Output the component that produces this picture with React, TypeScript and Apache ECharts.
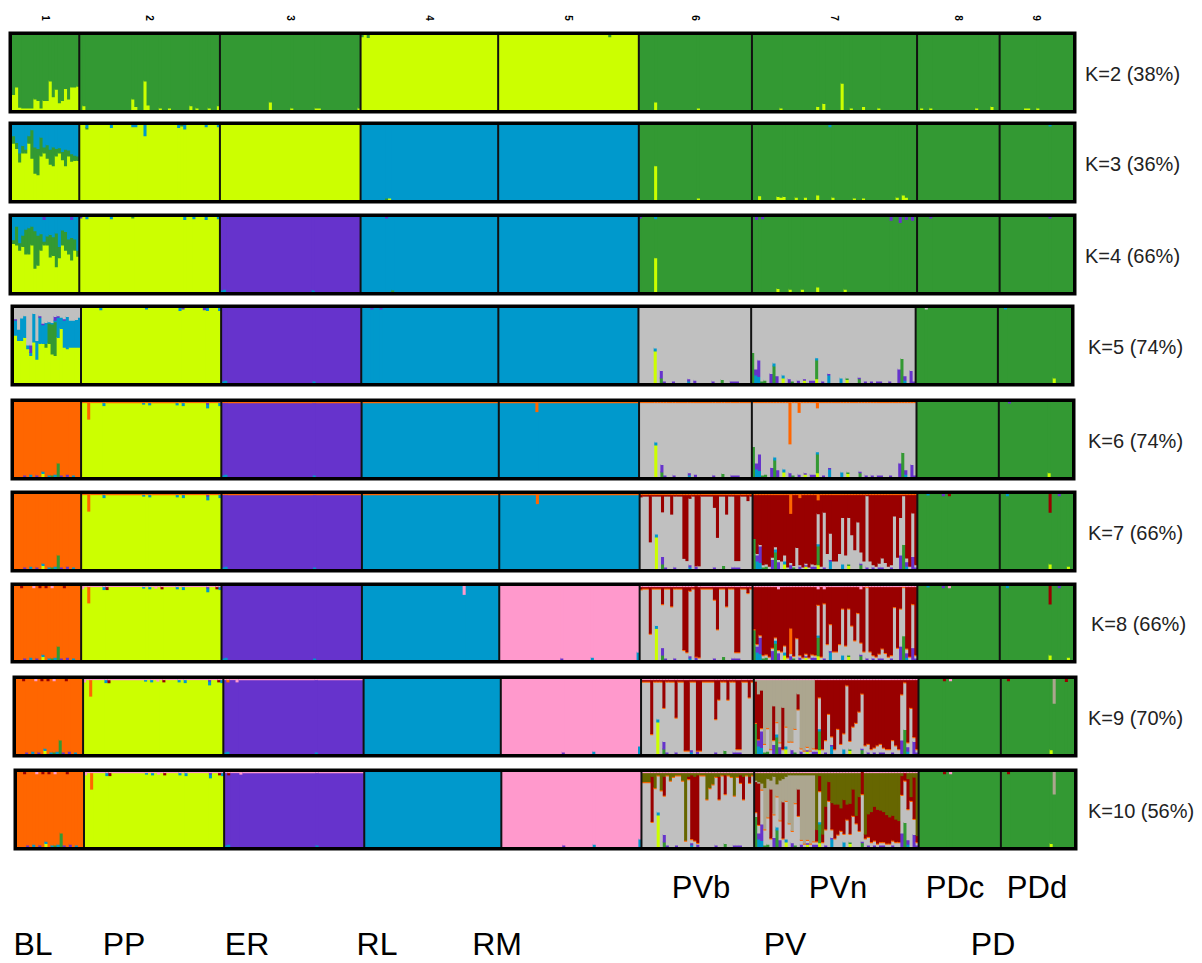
import React, { useEffect, useRef } from 'react';
import * as echarts from 'echarts';

// ---------- categories & labels ----------
const POPS = ['BL', 'PP', 'ER', 'RL', 'RM', 'PVb', 'PVn', 'PDc', 'PDd'];
const POP_SIZES = [22, 46, 46, 45, 46, 37, 54, 27, 24];
const POP_NUMBERS = ['1', '2', '3', '4', '5', '6', '7', '8', '9'];
const K_VALUES = [2, 3, 4, 5, 6, 7, 8, 9, 10];
const K_LABELS = ['K=2 (38%)', 'K=3 (36%)', 'K=4 (66%)', 'K=5 (74%)', 'K=6 (74%)', 'K=7 (66%)', 'K=8 (66%)', 'K=9 (70%)', 'K=10 (56%)'];
const SUB_LABELS = ['PVb', 'PVn', 'PDc', 'PDd'];
const GROUP_LABELS = ['BL', 'PP', 'ER', 'RL', 'RM', 'PV', 'PD'];

// ---------- cluster colours ----------
const CLUSTER_COLORS: Record<string, string> = {
  yellow: '#ccff00', green: '#339933', blue: '#0099cc', purple: '#6633cc',
  gray: '#c0c0c0', orange: '#ff6600', red: '#990000', pink: '#ff99cc',
  khaki: '#aca68f', olive: '#666600',
};

// stacking order (bottom -> top) for each K
const ORDERS: Record<number, string[]> = {
  2: ['yellow', 'green'],
  3: ['yellow', 'green', 'blue'],
  4: ['yellow', 'green', 'blue', 'purple'],
  5: ['yellow', 'green', 'blue', 'purple', 'gray'],
  6: ['yellow', 'green', 'blue', 'purple', 'gray', 'orange'],
  7: ['yellow', 'green', 'blue', 'purple', 'gray', 'red', 'orange'],
  8: ['yellow', 'green', 'blue', 'purple', 'gray', 'orange', 'red', 'pink'],
  9: ['yellow', 'green', 'blue', 'purple', 'gray', 'orange', 'red', 'khaki', 'pink'],
  10: ['yellow', 'green', 'blue', 'purple', 'gray', 'orange', 'red', 'khaki', 'olive', 'pink'],
};

// dominant cluster of each population for each K
const MAIN: Record<number, string[]> = {
  2: ['green', 'green', 'green', 'yellow', 'yellow', 'green', 'green', 'green', 'green'],
  3: ['blue', 'yellow', 'yellow', 'blue', 'blue', 'green', 'green', 'green', 'green'],
  4: ['blue', 'yellow', 'purple', 'blue', 'blue', 'green', 'green', 'green', 'green'],
  5: ['gray', 'yellow', 'purple', 'blue', 'blue', 'gray', 'gray', 'green', 'green'],
  6: ['orange', 'yellow', 'purple', 'blue', 'blue', 'gray', 'gray', 'green', 'green'],
  7: ['orange', 'yellow', 'purple', 'blue', 'blue', 'gray', 'red', 'green', 'green'],
  8: ['orange', 'yellow', 'purple', 'blue', 'pink', 'gray', 'red', 'green', 'green'],
  9: ['orange', 'yellow', 'purple', 'blue', 'pink', 'gray', 'khaki', 'green', 'green'],
  10: ['orange', 'yellow', 'purple', 'blue', 'pink', 'gray', 'khaki', 'green', 'green'],
};
// [K, pop, from individual, dominant cluster from there on]
const SPLITS: [number, number, number, string][] = [
  [9, 6, 20, 'red'],
  [10, 6, 20, 'olive'],
];

// ---------- per-individual membership (percent) ----------
const K2_BL_YELLOW = [20, 30, 3, 2, 2, 2, 2, 14, 12, 2, 12, 12, 38, 17, 27, 9, 12, 28, 14, 30, 30, 31];
const K3_BL_YELLOW = [75, 68, 50, 62, 62, 75, 55, 35, 33, 58, 62, 55, 47, 45, 58, 62, 53, 45, 58, 51, 52, 52];
const K3_BL_GREEN = [10, 8, 12, 10, 5, 10, 38, 35, 35, 25, 8, 18, 20, 25, 10, 7, 11, 22, 8, 10, 7, 6];
const K4_BL_YELLOW = [64, 62, 55, 60, 50, 50, 62, 31, 35, 55, 62, 62, 46, 48, 33, 45, 62, 55, 50, 42, 55, 47];
const K4_BL_GREEN = [5, 25, 10, 15, 33, 35, 25, 50, 40, 22, 5, 12, 30, 25, 45, 15, 20, 25, 20, 30, 15, 8];
const K4_BL_PURPLE = [0, 0, 0, 0, 0, 0, 0, 0, 0, 0, 4, 0, 0, 0, 0, 0, 0, 0, 0, 4, 0, 0];
const K5_BL_YELLOW = [63, 56, 56, 60, 45, 36, 54, 31, 52, 52, 47, 52, 38, 36, 60, 72, 47, 45, 47, 47, 47, 47];
const K5_BL_GREEN = [0, 0, 0, 0, 0, 0, 0, 0, 0, 0, 5, 27, 40, 45, 0, 0, 0, 0, 0, 0, 0, 0];
const K5_BL_BLUE = [20, 15, 30, 29, 5, 4, 38, 25, 35, 25, 28, 2, 2, 2, 27, 15, 36, 43, 36, 36, 37, 40];
const K5_BL_PURPLE = [2, 0, 0, 0, 0, 10, 0, 0, 2, 2, 0, 0, 0, 5, 2, 0, 2, 0, 0, 0, 0, 0];

const K7_PVB_RED = [3, 2, 2, 63, 2, 2, 2, 23, 2, 2, 26, 2, 2, 2, 85, 88, 5, 2, 95, 95, 2, 2, 2, 2, 17, 57, 2, 2, 26, 2, 2, 88, 88, 2, 2, 8, 2];
const K7_PVN_GRAY = [0, 2, 2, 3, 3, 3, 3, 3, 3, 10, 8, 2, 3, 2, 28, 2, 2, 2, 2, 3, 2, 40, 3, 73, 20, 35, 10, 10, 20, 62, 18, 62, 45, 25, 62, 15, 10, 95, 10, 3, 3, 5, 12, 8, 3, 3, 70, 15, 50, 65, 5, 3, 58, 3];
const K9_PVB_RED = [2, 2, 2, 72, 2, 2, 2, 37, 2, 2, 2, 50, 2, 2, 94, 94, 2, 2, 94, 94, 2, 2, 2, 2, 52, 26, 2, 2, 26, 2, 2, 92, 92, 2, 2, 23, 2];
const K9_PVN_GRAY = [0, 0, 3, 10, 30, 5, 5, 15, 5, 5, 25, 15, 10, 30, 58, 3, 3, 3, 3, 3, 2, 41, 5, 15, 52, 10, 5, 32, 12, 20, 90, 10, 35, 40, 55, 72, 10, 10, 5, 5, 10, 10, 5, 5, 5, 15, 10, 5, 60, 62, 5, 60, 5, 3];
const K9_PVN_RED = [55, 60, 50, 0, 0, 0, 45, 0, 0, 55, 0, 0, 0, 0, 20, 0, 0, 0, 0, 0];
const K10_PVB_RED = [0, 0, 0, 60, 0, 0, 0, 25, 0, 0, 0, 0, 0, 0, 0, 3, 85, 85, 90, 0, 0, 0, 0, 0, 0, 30, 0, 25, 0, 0, 0, 0, 10, 30, 0, 8, 0];
const K10_PVB_OLIVE = [12, 12, 12, 5, 20, 3, 23, 5, 3, 10, 5, 3, 3, 10, 90, 5, 3, 5, 3, 3, 3, 35, 20, 15, 5, 5, 3, 3, 3, 5, 30, 5, 3, 5, 3, 5, 3];
const K10_PVN_GRAY = [5, 10, 45, 20, 35, 10, 30, 40, 25, 10, 50, 30, 15, 55, 40, 5, 3, 3, 3, 3,
  3, 40, 5, 20, 60, 10, 10, 15, 20, 10, 35, 10, 40, 30, 20, 62, 10, 10, 5, 5, 3, 3, 3, 3, 3, 5, 5, 5, 50, 55, 40, 60, 20, 3];
const K10_PVN_RED = [40, 55, 0, 0, 0, 65, 0, 0, 0, 48, 0, 0, 0, 0, 35, 0, 0, 0, 0, 0,
  15, 20, 10, 30, 25, 35, 45, 40, 30, 45, 20, 40, 35, 10, 45, 30, 5, 30, 40, 45, 45, 42, 40, 38, 35, 33, 30, 28, 25, 10, 40, 5, 55, 8];
const K10_PVN_OLIVE = [10, 12, 14, 20, 8, 10, 5, 15, 10, 8, 5, 3, 3, 3, 3, 3, 3, 3, 3, 3];

// [K, pop, cluster, per-individual values]
const DENSE: [number, number, string, number[]][] = [
  [2, 0, 'yellow', K2_BL_YELLOW],
  [3, 0, 'yellow', K3_BL_YELLOW], [3, 0, 'green', K3_BL_GREEN],
  [4, 0, 'yellow', K4_BL_YELLOW], [4, 0, 'green', K4_BL_GREEN], [4, 0, 'purple', K4_BL_PURPLE],
  [5, 0, 'yellow', K5_BL_YELLOW], [5, 0, 'green', K5_BL_GREEN], [5, 0, 'blue', K5_BL_BLUE], [5, 0, 'purple', K5_BL_PURPLE],
  [7, 5, 'red', K7_PVB_RED], [7, 6, 'gray', K7_PVN_GRAY],
  [8, 5, 'red', K7_PVB_RED], [8, 6, 'gray', K7_PVN_GRAY],
  [9, 5, 'red', K9_PVB_RED], [9, 6, 'gray', K9_PVN_GRAY], [9, 6, 'red', K9_PVN_RED],
  [10, 5, 'red', K10_PVB_RED], [10, 5, 'olive', K10_PVB_OLIVE],
  [10, 6, 'gray', K10_PVN_GRAY], [10, 6, 'red', K10_PVN_RED], [10, 6, 'olive', K10_PVN_OLIVE],
];

// thin bands shared by every individual of a population: [K, pops, cluster, value]
const BANDS: [number, number[], string, number][] = [
  [6, [1, 2, 3, 4, 5, 6], 'orange', 1.5],
  [7, [1, 2, 3, 4, 5, 6], 'orange', 1.5],
  [8, [5, 6], 'orange', 1.5], [8, [1, 5, 6], 'pink', 1.5],
  [9, [5, 6], 'orange', 1.5], [9, [1, 2, 5, 6], 'pink', 1.5],
  [10, [5, 6], 'orange', 1.5], [10, [1, 2, 5, 6], 'pink', 1.5],
];

// small admixed fractions: [individual, cluster, value]
const PVB_LOW: [number, string, number][] = [
  [5, 'yellow', 42], [5, 'blue', 4], [7, 'purple', 10], [7, 'green', 6], [8, 'purple', 2], [11, 'purple', 2],
  [16, 'purple', 3], [16, 'blue', 2], [18, 'purple', 3], [24, 'purple', 2], [27, 'green', 4],
  [30, 'purple', 2], [31, 'purple', 2], [32, 'purple', 2],
];
const PVN_LOW: [number, string, number][] = [
  [0, 'green', 40], [1, 'blue', 10], [1, 'purple', 8], [2, 'purple', 22], [2, 'blue', 8], [3, 'green', 2], [4, 'green', 3],
  [6, 'purple', 12], [7, 'green', 22], [7, 'blue', 4], [8, 'purple', 9], [10, 'yellow', 6], [10, 'blue', 4],
  [12, 'purple', 5], [13, 'green', 2], [15, 'purple', 3], [17, 'yellow', 3], [17, 'purple', 2], [19, 'purple', 3],
  [20, 'purple', 3], [21, 'green', 25], [21, 'yellow', 5], [21, 'blue', 3], [23, 'purple', 2], [25, 'blue', 10],
  [25, 'purple', 2], [29, 'blue', 6], [31, 'yellow', 4], [31, 'green', 2], [35, 'green', 5], [35, 'purple', 2],
  [37, 'purple', 2], [39, 'purple', 2], [41, 'purple', 2], [42, 'purple', 2], [45, 'purple', 2], [48, 'purple', 18],
  [49, 'green', 32], [50, 'purple', 6], [50, 'blue', 3], [52, 'purple', 16], [53, 'purple', 2],
];
const BL_LOW: [number, string, number][] = [
  [3, 'purple', 2], [5, 'blue', 3], [7, 'purple', 2], [9, 'yellow', 4], [9, 'blue', 3], [11, 'blue', 2],
  [12, 'green', 2], [13, 'blue', 3], [14, 'green', 18], [15, 'purple', 2], [17, 'purple', 3], [19, 'blue', 2],
];
const BL_TOP: [number, string, number][] = [
  [2, 'red', 3], [6, 'pink', 3], [8, 'red', 3], [10, 'red', 3], [12, 'pink', 3], [16, 'red', 3],
];
const PP_TOP: [number, string, number][] = [
  [2, 'orange', 22], [7, 'blue', 4], [20, 'blue', 2], [22, 'blue', 3], [31, 'blue', 3], [33, 'blue', 4],
  [41, 'blue', 5], [41, 'purple', 2], [45, 'blue', 4],
];
const PP_TOP_LATE: [number, string, number][] = [
  [0, 'pink', 3], [8, 'red', 4], [24, 'pink', 2], [26, 'red', 3], [44, 'red', 3],
];
const ER_LOW: [number, string, number][] = [[0, 'blue', 2], [1, 'blue', 3], [30, 'blue', 2]];
const RM_ORANGE: [number, string, number][] = [[12, 'orange', 12]];
const RM_LOW: [number, string, number][] = [[45, 'blue', 10], [30, 'blue', 3], [20, 'purple', 2]];

// which list applies to which population at which K
const SHARED: { ks: number[]; pop: number; items: [number, string, number][] }[] = [
  { ks: [5, 6, 7, 8, 9, 10], pop: 5, items: PVB_LOW },
  { ks: [5, 6, 7, 8, 9, 10], pop: 6, items: PVN_LOW },
  { ks: [6, 7, 8, 9, 10], pop: 0, items: BL_LOW },
  { ks: [8, 9, 10], pop: 0, items: BL_TOP },
  { ks: [6, 7, 8, 9, 10], pop: 1, items: PP_TOP },
  { ks: [8, 9, 10], pop: 1, items: PP_TOP_LATE },
  { ks: [4, 5, 6, 7, 8, 9, 10], pop: 2, items: ER_LOW },
  { ks: [6, 7], pop: 4, items: RM_ORANGE },
  { ks: [8, 9, 10], pop: 4, items: RM_LOW },
];

// [K, pop, individual, cluster, value]
const SPECKS: [number, number, number, string, number][] = [
  // K=2
  [2, 1, 1, 'yellow', 5], [2, 1, 17, 'yellow', 14], [2, 1, 18, 'yellow', 4], [2, 1, 21, 'yellow', 38], [2, 1, 22, 'yellow', 6],
  [2, 1, 26, 'yellow', 2], [2, 1, 29, 'yellow', 2], [2, 1, 36, 'yellow', 5], [2, 1, 38, 'yellow', 2], [2, 1, 42, 'yellow', 2], [2, 1, 45, 'yellow', 5],
  [2, 2, 16, 'yellow', 10], [2, 2, 23, 'yellow', 2], [2, 2, 31, 'yellow', 2], [2, 2, 32, 'yellow', 2], [2, 2, 45, 'yellow', 2],
  [2, 3, 0, 'green', 3], [2, 3, 2, 'green', 4], [2, 4, 36, 'green', 3],
  [2, 5, 5, 'yellow', 10], [2, 5, 19, 'yellow', 2],
  [2, 6, 9, 'yellow', 2], [2, 6, 21, 'yellow', 4], [2, 6, 23, 'yellow', 8], [2, 6, 29, 'yellow', 35], [2, 6, 32, 'yellow', 2], [2, 6, 36, 'yellow', 4], [2, 6, 41, 'yellow', 2],
  [2, 7, 1, 'yellow', 2], [2, 7, 4, 'yellow', 2], [2, 7, 19, 'yellow', 2], [2, 7, 24, 'yellow', 4],
  [2, 8, 8, 'yellow', 2], [2, 8, 9, 'yellow', 2], [2, 8, 12, 'yellow', 2],
  // K=3
  [3, 1, 2, 'blue', 4], [3, 1, 10, 'blue', 4], [3, 1, 17, 'blue', 3], [3, 1, 18, 'blue', 3], [3, 1, 21, 'blue', 15],
  [3, 1, 32, 'blue', 4], [3, 1, 34, 'blue', 6], [3, 1, 41, 'blue', 3], [3, 1, 45, 'blue', 3], [3, 1, 2, 'green', 2], [3, 1, 33, 'green', 2],
  [3, 3, 8, 'green', 2], [3, 3, 9, 'yellow', 2],
  [3, 5, 5, 'yellow', 45], [3, 5, 19, 'yellow', 2],
  [3, 6, 2, 'yellow', 5], [3, 6, 8, 'yellow', 4], [3, 6, 9, 'yellow', 3], [3, 6, 10, 'yellow', 4], [3, 6, 14, 'yellow', 3], [3, 6, 17, 'yellow', 3],
  [3, 6, 21, 'yellow', 6], [3, 6, 25, 'blue', 3], [3, 6, 26, 'yellow', 3], [3, 6, 33, 'yellow', 2], [3, 6, 36, 'yellow', 2],
  [3, 6, 47, 'yellow', 3], [3, 6, 49, 'yellow', 6], [3, 6, 50, 'yellow', 3], [3, 8, 16, 'blue', 2],
  // K=4
  [4, 1, 2, 'blue', 3], [4, 1, 10, 'blue', 3], [4, 1, 17, 'green', 2], [4, 1, 34, 'blue', 4], [4, 1, 37, 'blue', 3],
  [4, 1, 41, 'blue', 4], [4, 1, 45, 'blue', 3], [4, 1, 0, 'purple', 2],
  [4, 3, 10, 'green', 2], [4, 3, 8, 'purple', 2],
  [4, 5, 5, 'yellow', 45], [4, 5, 5, 'blue', 3], [4, 5, 0, 'purple', 2],
  [4, 6, 1, 'purple', 4], [4, 6, 3, 'purple', 3], [4, 6, 8, 'yellow', 4], [4, 6, 12, 'yellow', 3], [4, 6, 16, 'yellow', 3],
  [4, 6, 21, 'yellow', 6], [4, 6, 30, 'yellow', 3], [4, 6, 45, 'purple', 5], [4, 6, 48, 'purple', 8], [4, 6, 50, 'purple', 4], [4, 6, 52, 'purple', 5],
  [4, 7, 4, 'purple', 2], [4, 8, 16, 'purple', 2],
  // K=5
  [5, 1, 6, 'blue', 3], [5, 1, 21, 'blue', 2], [5, 1, 32, 'blue', 4], [5, 1, 33, 'purple', 2], [5, 1, 40, 'purple', 3], [5, 1, 41, 'blue', 4], [5, 1, 45, 'blue', 4],
  [5, 3, 3, 'purple', 2], [5, 3, 6, 'purple', 2],
  [5, 7, 3, 'gray', 2], [5, 8, 18, 'yellow', 6], [5, 8, 2, 'blue', 2],
  // K=6
  [6, 6, 12, 'orange', 55], [6, 6, 15, 'orange', 13], [6, 6, 21, 'orange', 7],
  [6, 8, 3, 'purple', 2], [6, 8, 16, 'yellow', 5],
  // K=7
  [7, 6, 12, 'orange', 25], [7, 6, 15, 'orange', 4], [7, 6, 21, 'orange', 7],
  [7, 7, 8, 'purple', 3], [7, 7, 10, 'red', 3], [7, 7, 3, 'blue', 2],
  [7, 8, 16, 'red', 25], [7, 8, 16, 'yellow', 6], [7, 8, 22, 'yellow', 3], [7, 8, 19, 'purple', 3], [7, 8, 2, 'blue', 3],
  // K=8
  [8, 6, 12, 'orange', 33], [8, 6, 8, 'pink', 3], [8, 6, 21, 'pink', 3], [8, 6, 23, 'pink', 3], [8, 6, 35, 'pink', 3],
  [8, 3, 33, 'pink', 12],
  [8, 7, 8, 'purple', 3], [8, 7, 10, 'pink', 3], [8, 7, 3, 'blue', 2],
  [8, 8, 16, 'red', 25], [8, 8, 16, 'yellow', 6], [8, 8, 22, 'yellow', 3], [8, 8, 19, 'purple', 3], [8, 8, 2, 'blue', 3],
  // K=9
  [9, 2, 1, 'orange', 3], [9, 2, 4, 'pink', 3],
  [9, 7, 8, 'red', 3], [9, 7, 10, 'pink', 3],
  [9, 8, 17, 'khaki', 33], [9, 8, 16, 'yellow', 5], [9, 8, 2, 'red', 3], [9, 8, 21, 'red', 4],
  // K=10
  [10, 2, 1, 'red', 3], [10, 2, 5, 'pink', 2],
  [10, 7, 8, 'red', 3], [10, 7, 10, 'pink', 3],
  [10, 8, 17, 'khaki', 30], [10, 8, 16, 'yellow', 4], [10, 8, 2, 'red', 3],
];

// ---------- layout (pixels) ----------
const PANEL_BOX = [ // [left, right, top, bottom] of each plot area
  [12, 1073, 35, 110], [12, 1073, 125, 200], [12, 1073, 217, 292],
  [14, 1071, 308, 383], [14, 1072, 402, 477], [14, 1073, 494, 569],
  [14, 1073, 586, 660], [16, 1074, 679, 754], [17, 1074, 772, 847],
];
const K_LABEL_X = [1085, 1085, 1085, 1088, 1088, 1088, 1091, 1088, 1088];
const SUB_LABEL_X = [701, 838, 955, 1037];
const SUB_LABEL_Y = 887;
const GROUP_LABEL_X = [33, 124, 247, 377, 497, 785, 993];
const GROUP_LABEL_Y = 944;
const FONT = '"Liberation Sans", Arial, sans-serif';

const PALETTE_KEYS = Object.keys(CLUSTER_COLORS);
const TOTAL = POP_SIZES.reduce((a, b) => a + b, 0);
const STARTS = POP_SIZES.map((_, i) => POP_SIZES.slice(0, i).reduce((a, b) => a + b, 0));
const BOUNDS = STARTS.slice(1);

function buildCells(k: number) {
  const cols: Record<string, number>[][] = POP_SIZES.map((n) => Array.from({ length: n }, () => ({})));
  const add = (p: number, i: number, c: string, v: number) => {
    if (i < POP_SIZES[p] && v > 0) cols[p][i][c] = (cols[p][i][c] || 0) + v;
  };
  BANDS.filter((b) => b[0] === k).forEach(([, pops, c, v]) => pops.forEach((p) => {
    for (let i = 0; i < POP_SIZES[p]; i++) add(p, i, c, v);
  }));
  DENSE.filter((d) => d[0] === k).forEach(([, p, c, arr]) => arr.forEach((v, i) => add(p, i, c, v)));
  SHARED.filter((s) => s.ks.includes(k)).forEach((s) => s.items.forEach(([i, c, v]) => add(s.pop, i, c, v)));
  SPECKS.filter((s) => s[0] === k).forEach(([, p, i, c, v]) => add(p, i, c, v));

  const order = ORDERS[k];
  const items: number[][] = [];
  POP_SIZES.forEach((n, p) => {
    let prevSig = '';
    let prevItems: number[][] = [];
    for (let i = 0; i < n; i++) {
      const x = STARTS[p] + i;
      let dom = MAIN[k][p];
      SPLITS.forEach(([sk, sp, si, sc]) => { if (sk === k && sp === p && i >= si) dom = sc; });
      const col = cols[p][i];
      let explicit = 0;
      Object.keys(col).forEach((c) => { if (c !== dom) explicit += col[c]; });
      const segs: [number, number, number][] = [];
      let y = 0;
      order.forEach((c) => {
        const v = c === dom ? Math.max(0, 100 - explicit) : (col[c] || 0);
        if (v > 0) { segs.push([y, Math.min(100, y + v), PALETTE_KEYS.indexOf(c)]); y += v; }
      });
      const sig = segs.map((s) => s.join(',')).join('|');
      if (sig === prevSig) {
        prevItems.forEach((it) => { it[1] = x + 1; });
      } else {
        prevItems = segs.filter((s) => s[1] > s[0]).map((s) => [x, x + 1, s[0], s[1], s[2]]);
        prevItems.forEach((it) => items.push(it));
        prevSig = sig;
      }
    }
  });
  return items;
}

const renderCell = (_params: any, api: any) => {
  const x0 = api.value(0), x1 = api.value(1), y0 = api.value(2), y1 = api.value(3);
  const tl = api.coord([x0, y1]);
  const br = api.coord([x1, y0]);
  return {
    type: 'rect',
    shape: { x: tl[0], y: tl[1] - 1, width: br[0] - tl[0] + 1, height: br[1] - tl[1] + 1 },
    style: { fill: CLUSTER_COLORS[PALETTE_KEYS[api.value(4)]] },
  };
};

const renderSeparator = (_params: any, api: any) => {
  const b = api.value(0);
  const p0 = api.coord([b, 0]);
  const p1 = api.coord([b, 100]);
  return { type: 'line', shape: { x1: p0[0], y1: p0[1], x2: p1[0], y2: p1[1] }, style: { stroke: '#111', lineWidth: 2 } };
};

const renderPopNumber = (_params: any, api: any) => {
  const p = api.coord([api.value(0), 100]);
  return {
    type: 'text', x: p[0], y: p[1] - 17, rotation: -Math.PI / 2,
    style: { text: POP_NUMBERS[api.value(2)], fill: '#000', font: `bold 10px ${FONT}`, align: 'center', verticalAlign: 'middle' },
  };
};

function buildOption() {
  const grid: any[] = [];
  const xAxis: any[] = [];
  const yAxis: any[] = [];
  const series: any[] = [];
  const graphic: any[] = [];
  K_VALUES.forEach((k, g) => {
    const [l, r, t, b] = PANEL_BOX[g];
    grid.push({ left: l, top: t, width: r - l, height: b - t, show: true, borderColor: '#000', borderWidth: 7, backgroundColor: 'rgba(0,0,0,0)' });
    xAxis.push({ type: 'value', gridIndex: g, min: 0, max: TOTAL, show: false });
    yAxis.push({ type: 'value', gridIndex: g, min: 0, max: 100, show: false });
    series.push({ type: 'custom', xAxisIndex: g, yAxisIndex: g, clip: true, silent: true, renderItem: renderCell, data: buildCells(k), encode: { x: [0, 1], y: [2, 3] } });
    series.push({ type: 'custom', xAxisIndex: g, yAxisIndex: g, silent: true, renderItem: renderSeparator, data: BOUNDS.map((v) => [v, 0]) });
    graphic.push({
      type: 'text', x: K_LABEL_X[g], y: (t + b) / 2 + 1,
      style: { text: K_LABELS[g], fill: '#222', font: `20px ${FONT}`, align: 'left', verticalAlign: 'middle' },
    });
  });
  series.push({
    type: 'custom', xAxisIndex: 0, yAxisIndex: 0, clip: false, silent: true, renderItem: renderPopNumber,
    data: POPS.map((_, p) => [STARTS[p] + POP_SIZES[p] / 2, 100, p]),
  });
  SUB_LABELS.forEach((s, i) => graphic.push({
    type: 'text', x: SUB_LABEL_X[i], y: SUB_LABEL_Y,
    style: { text: s, fill: '#000', font: `31px ${FONT}`, align: 'center', verticalAlign: 'middle' },
  }));
  GROUP_LABELS.forEach((s, i) => graphic.push({
    type: 'text', x: GROUP_LABEL_X[i], y: GROUP_LABEL_Y,
    style: { text: s, fill: '#000', font: `32px ${FONT}`, align: 'center', verticalAlign: 'middle' },
  }));
  return { animation: false, backgroundColor: '#fff', grid, xAxis, yAxis, series, graphic };
}

export default function App() {
  const ref = useRef<HTMLDivElement>(null);
  useEffect(() => {
    if (!ref.current) return;
    const chart = echarts.init(ref.current, null, { renderer: 'svg' });
    chart.setOption(buildOption());
    return () => chart.dispose();
  }, []);
  return <div ref={ref} style={{ position: 'absolute', left: 0, top: 0, width: 1202, height: 963 }} />;
}
